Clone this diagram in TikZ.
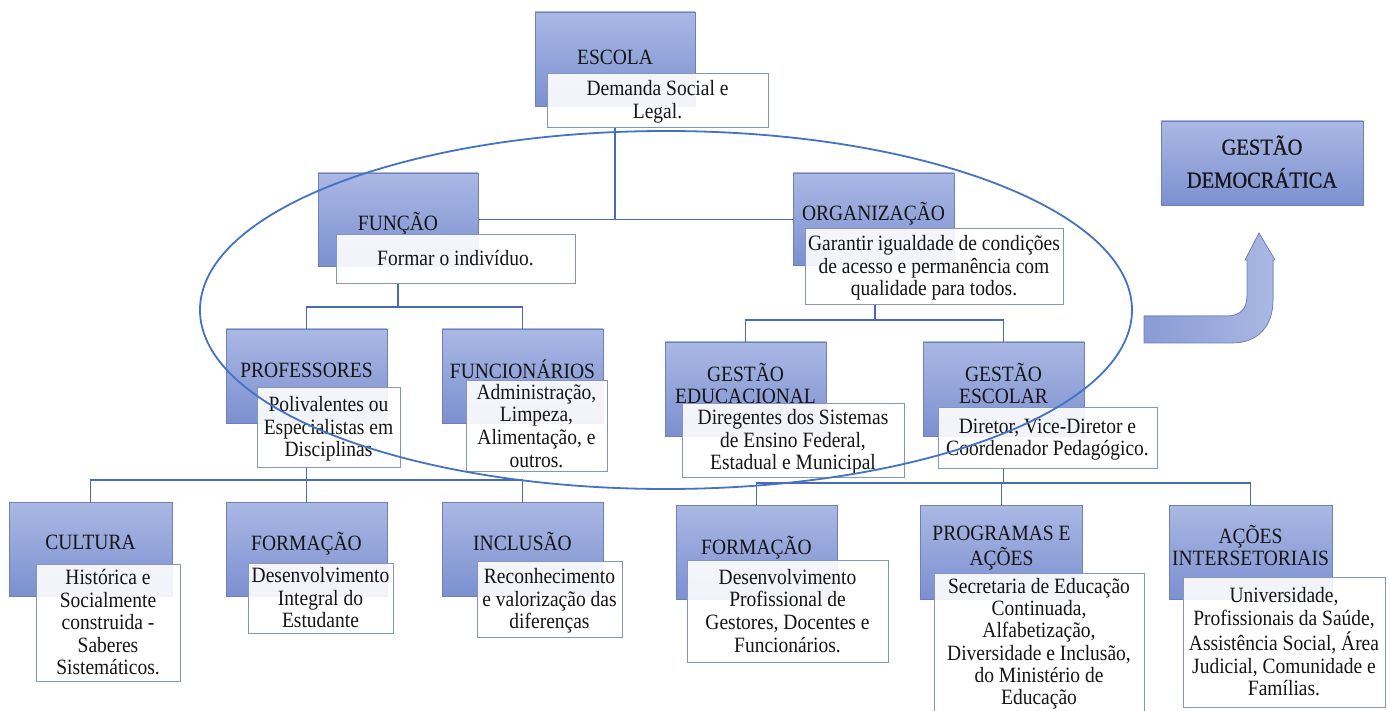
\documentclass[tikz,border=0pt]{standalone}
\usepackage{graphicx}
\usepackage{fontspec}
\setmainfont{Liberation Serif}
\newfontfamily\tnr{Liberation Serif}
\newcommand\vs[1]{\raisebox{0pt}[\dimexpr\height+2.6pt][\dimexpr\depth-2.6pt]{\scalebox{1}[1.12]{\begin{tabular}{@{}c@{}}#1\end{tabular}}}}
\definecolor{gtop}{HTML}{AAB8E4}
\definecolor{gbot}{HTML}{7C90D0}
\definecolor{gborder}{HTML}{6E80B6}
\definecolor{wborder}{HTML}{8496BF}
\definecolor{linecol}{HTML}{4A6BB2}
\definecolor{ellcol}{HTML}{4472C4}
\definecolor{txt}{HTML}{151515}
\begin{document}
\begin{tikzpicture}[x=1pt,y=-1pt,
  every node/.style={font=\tnr\fontsize{19.5}{20.2}\selectfont, text=txt},
  gbox/.style={draw=gborder, line width=0.8pt, top color=gtop, bottom color=gbot, inner sep=0pt},
  wbox/.style={draw=wborder, line width=0.9pt, fill=white, fill opacity=0.9, text opacity=1, inner sep=0pt},
  htext/.style={inner sep=0pt},
  conn/.style={draw=linecol, line width=1.8pt},
  ell/.style={draw=ellcol, line width=1.8pt},
  bigarrow/.style={draw=gborder, line width=0.7pt, left color=gbot!90!white, right color=gtop}
]
\useasboundingbox (0,0) rectangle (1387,711);

% junction coordinates
\coordinate (fj) at (398,307);
\coordinate (oj) at (875,320);
\coordinate (pj) at (306.5,480);
\coordinate (gj) at (1003.5,483);

% header boxes
\node[gbox, minimum width=160pt, minimum height=94pt] (escola) at (615,59) {};
\node[gbox, minimum width=160pt, minimum height=93pt] (funcao) at (398,219.5) {};
\node[gbox, minimum width=161pt, minimum height=92pt] (org) at (873.5,219) {};
\node[gbox, minimum width=161pt, minimum height=94pt] (prof) at (306.5,376) {};
\node[gbox, minimum width=161pt, minimum height=94pt] (func) at (522.5,376) {};
\node[gbox, minimum width=161pt, minimum height=94pt] (ged) at (745.5,389) {};
\node[gbox, minimum width=161pt, minimum height=94pt] (gesc) at (1003.5,389) {};
\node[gbox, minimum width=163pt, minimum height=94pt] (cult) at (90.5,549) {};
\node[gbox, minimum width=161pt, minimum height=94pt] (form) at (306.5,549) {};
\node[gbox, minimum width=161pt, minimum height=94pt] (incl) at (522.5,549) {};
\node[gbox, minimum width=161pt, minimum height=94pt] (form2) at (756.5,552) {};
\node[gbox, minimum width=162pt, minimum height=94pt] (prog) at (1001.5,552) {};
\node[gbox, minimum width=163pt, minimum height=94pt] (acoes) at (1250.5,552) {};
\node[gbox, minimum width=202pt, minimum height=84pt] (gd) at (1262,163) {};

% connectors
\draw[conn] (escola |- 0,127) |- (funcao.east);
\draw[conn] (funcao.east) -- (funcao.east -| org.west);
\draw[conn] (fj |- 0,283) -- (fj);
\draw[conn] (prof.north) |- (fj) -| (func.north);
\draw[conn] (oj |- 0,304) -- (oj);
\draw[conn] (ged.north) |- (oj) -| (gesc.north);
\draw[conn] (pj |- 0,467) -- (form.north);
\draw[conn] (cult.north) |- (pj) -| (incl.north);
\draw[conn] (gj |- 0,468) -- (gj);
\draw[conn] (form2.north) |- (gj) -| (acoes.north);
\draw[conn] (gj) -| (prog.north);

% redraw header boxes over connector ends
\node[gbox, minimum width=160pt, minimum height=94pt] at (escola) {};
\node[gbox, minimum width=160pt, minimum height=93pt] at (funcao) {};
\node[gbox, minimum width=161pt, minimum height=92pt] at (org) {};

% header texts
\node[htext] (escola-t) at (615,57) {\vs{ESCOLA}};
\node[htext] (funcao-t) at (398,222) {\vs{FUNÇÃO}};
\node[htext] (org-t) at (873.5,212) {\vs{ORGANIZAÇÃO}};
\node[htext] (prof-t) at (306.5,370) {\vs{PROFESSORES}};
\node[htext] (func-t) at (522.5,370) {\vs{FUNCIONÁRIOS}};
\node[htext] (ged-t) at (745.5,384) {\vs{GESTÃO\\EDUCACIONAL}};
\node[htext] (gesc-t) at (1003.5,384) {\vs{GESTÃO\\ESCOLAR}};
\node[htext] (cult-t) at (90.5,542) {\vs{CULTURA}};
\node[htext] (form-t) at (306.5,542) {\vs{FORMAÇÃO}};
\node[htext] (incl-t) at (522.5,542) {\vs{INCLUSÃO}};
\node[htext] (form2-t) at (756.5,546) {\vs{FORMAÇÃO}};
\node[htext] (prog-t) at (1001.5,546) {\vs{PROGRAMAS E\\AÇÕES}};
\node[htext] (acoes-t) at (1250.5,546) {\vs{AÇÕES\\INTERSETORIAIS}};
\node[htext, font=\tnr\fontsize{20.5}{29.5}\selectfont\addfontfeature{FakeBold=0.6}] (gd-t) at (1262,162) {\vs{GESTÃO\\DEMOCRÁTICA}};

% white description boxes
\node[wbox, minimum width=221pt, minimum height=54pt] (escolaw) at (657.5,100) {\vs{Demanda Social e\\Legal.}};
\node[wbox, minimum width=239pt, minimum height=49pt] (funcaow) at (455.5,258.5) {\vs{Formar o indivíduo.}};
\node[wbox, minimum width=258pt, minimum height=76pt] (orgw) at (934,266) {\vs{Garantir igualdade de condições\\de acesso e permanência com\\qualidade para todos.}};
\node[wbox, minimum width=143pt, minimum height=80pt] (profw) at (328.5,427) {\vs{Polivalentes ou\\Especialistas em\\Disciplinas}};
\node[wbox, minimum width=141pt, minimum height=86pt] (funcw) at (536.5,426) {\vs{Administração,\\Limpeza,\\Alimentação, e\\outros.}};
\node[wbox, minimum width=222pt, minimum height=74pt] (gedw) at (793,440) {\vs{Diregentes dos Sistemas\\de Ensino Federal,\\Estadual e Municipal}};
\node[wbox, minimum width=219pt, minimum height=61pt] (gescw) at (1047.5,437.5) {\vs{Diretor, Vice-Diretor e\\Coordenador Pedagógico.}};
\node[wbox, minimum width=144pt, minimum height=117pt] (cultw) at (108,622.5) {\vs{Histórica e\\Socialmente\\construida -\\Saberes\\Sistemáticos.}};
\node[wbox, minimum width=145pt, minimum height=70pt] (formw) at (320.5,598) {\vs{Desenvolvimento\\Integral do\\Estudante}};
\node[wbox, minimum width=145pt, minimum height=76pt] (inclw) at (549.5,599) {\vs{Reconhecimento\\e valorização das\\diferenças}};
\node[wbox, minimum width=201pt, minimum height=102pt] (form2w) at (787.5,611) {\vs{Desenvolvimento\\Profissional de\\Gestores, Docentes e\\Funcionários.}};
\node[wbox, minimum width=210pt, minimum height=138pt, font=\tnr\fontsize{19.5}{19.9}\selectfont] (progw) at (1039,642) {\vs{Secretaria de Educação\\Continuada,\\Alfabetização,\\Diversidade e Inclusão,\\do Ministério de\\Educação}};
\node[wbox, minimum width=202pt, minimum height=130pt] (acoesw) at (1284,642) {\vs{Universidade,\\Profissionais da Saúde,\\Assistência Social, Área\\Judicial, Comunidade e\\Famílias.}};

% bent arrow
\filldraw[bigarrow] (1144,316) -- (1227,316) .. controls (1240,316) and (1247,309) .. (1247,296)
  -- (1247,260) -- (1245,260) -- (1259,233) -- (1275,260) -- (1273,260) -- (1273,300)
  .. controls (1273,326) and (1258,343) .. (1232,343) -- (1144,343) -- cycle;

% ellipse on top
\draw[ell] (666,310) ellipse [x radius=466, y radius=179];
\end{tikzpicture}
\end{document}
